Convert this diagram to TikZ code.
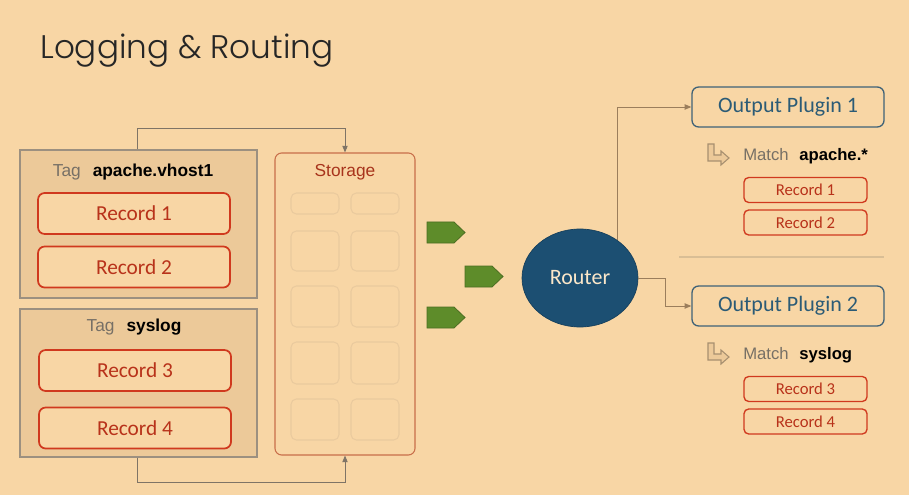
\documentclass[tikz,border=0pt]{standalone}
\usepackage{fontspec}
\setmainfont{Liberation Sans}
\newfontfamily\calib{Carlito}
\newfontfamily\titlef{Poppins Light}
\usetikzlibrary{shapes.geometric,arrows.meta}
\definecolor{bg}{HTML}{F8D6A5}
\definecolor{tagfill}{HTML}{ECC999}
\definecolor{tagdraw}{HTML}{9C9080}
\definecolor{recred}{HTML}{D0391E}
\definecolor{rectext}{HTML}{B8321A}
\definecolor{stortext}{HTML}{A8341C}
\definecolor{stordraw}{HTML}{C86E4A}
\definecolor{cellc}{HTML}{EACA9E}
\definecolor{conn}{HTML}{7F7466}
\definecolor{rconn}{HTML}{9B7E5C}
\definecolor{routerc}{HTML}{1C4F72}
\definecolor{opdraw}{HTML}{3F6277}
\definecolor{optext}{HTML}{2B5B76}
\definecolor{sepc}{HTML}{D9BE95}
\definecolor{greenf}{HTML}{5E8C2A}
\definecolor{greend}{HTML}{4C6E22}
\definecolor{iconc}{HTML}{A89070}
\definecolor{tagword}{HTML}{777066}
\tikzset{
  tagbox/.style={draw=tagdraw, fill=tagfill, line width=0.8pt, minimum width={237*0.75pt}, minimum height={148*0.75pt}, inner sep=0pt},
  bigrec/.style={draw=recred, fill=bg, line width=1.3pt, rounded corners=5pt, minimum width={192*0.75pt}, minimum height={41*0.75pt}, inner sep=0pt, text=rectext, font=\calib\fontsize{16}{18}\selectfont},
  smallrec/.style={draw=recred, fill=bg, line width=1pt, rounded corners=3.5pt, minimum width={123*0.75pt}, minimum height={25*0.75pt}, inner sep=0pt, text=rectext, font=\calib\fontsize{12.5}{14}\selectfont},
  storbox/.style={draw=stordraw, line width=0.8pt, rounded corners=5pt, minimum width={140*0.75pt}, minimum height={302*0.75pt}, inner sep=0pt},
  cell/.style={draw=cellc, line width=0.8pt, rounded corners=4pt, minimum width={48*0.75pt}, inner sep=0pt},
  opbox/.style={draw=opdraw, line width=1pt, rounded corners=5pt, minimum width={192*0.75pt}, minimum height={40*0.75pt}, inner sep=0pt, text=optext, font=\calib\fontsize{16.5}{18}\selectfont},
  connl/.style={draw=conn, line width=0.6pt},
  rconnl/.style={draw=rconn, line width=0.7pt},
  tip/.style={-{Triangle[length=5pt,width=4pt]}},
  greenarr/.style={fill=greenf, draw=greend, line width=0.6pt},
  icon/.style={draw=iconc, fill=tagfill, line width=0.8pt, line join=miter},
  lbl/.style={inner sep=0pt, font=\fontsize{12.5}{14}\selectfont},
  taglbl/.style={inner sep=0pt, font=\fontsize{13}{15}\selectfont},
}
\begin{document}
\begin{tikzpicture}[x=0.75pt,y=-0.75pt]
\fill[bg] (0,0) rectangle (909,495);
\useasboundingbox (0,0) rectangle (909,495);

\node[anchor=base west, inner sep=0pt, font=\titlef\fontsize{24.5}{28}\selectfont, text=black!85] (title) at (40,59) {Logging \& Routing};

% tag boxes
\node[tagbox] (tag1) at (138.5,224) {};
\node[taglbl] (tag1l) at (133,172) {\textcolor{tagword}{Tag}\hspace{9pt}\textbf{apache.vhost1}};
\node[bigrec] (r1) at (134,213.5) {Record 1};
\node[bigrec] (r2) at (134,267) {Record 2};

\node[tagbox] (tag2) at (138.5,383) {};
\node[taglbl] (tag2l) at (134,327) {\textcolor{tagword}{Tag}\hspace{9pt}\textbf{syslog}};
\node[bigrec] (r3) at (135,370.5) {Record 3};
\node[bigrec] (r4) at (135,428) {Record 4};

% storage
\node[storbox] (stor) at (345,304) {};
\node[inner sep=0pt, text=stortext, font=\fontsize{13}{15}\selectfont] (storl) at (345,172) {Storage};
\foreach \y/\h [count=\i] in {203.5/21, 251/40, 306.5/41, 363/42, 419.5/41}{
  \node[cell, minimum height={\h*0.75pt}] (ca\i) at (315,\y) {};
  \node[cell, minimum height={\h*0.75pt}] (cb\i) at (375,\y) {};
}

% connectors to storage
\coordinate (t1) at (137,128);
\coordinate (b1) at (137,482);
\draw[connl, tip] (tag1.north -| t1) -- (t1) -| (stor.north);
\draw[connl, tip] (tag2.south -| b1) -- (b1) -| (stor.south);

% green arrows
\draw[greenarr] (427,222) -- (454,222) -- (465,232.5) -- (454,243) -- (427,243) -- cycle;
\draw[greenarr] (465,266) -- (492,266) -- (503,276.5) -- (492,287) -- (465,287) -- cycle;
\draw[greenarr] (427,307) -- (454,307) -- (465,317.5) -- (454,328) -- (427,328) -- cycle;

% router
\node[ellipse, fill=routerc, draw=routerc!80!black, line width=0.5pt, minimum width={116*0.75pt}, minimum height={98*0.75pt}, inner sep=0pt, text=bg!60!white, font=\calib\fontsize{16.5}{18}\selectfont] (router) at (580,278) {Router};

% outputs
\node[opbox] (op1) at (788,107) {Output Plugin 1};
\node[opbox] (op2) at (788,306) {Output Plugin 2};
\coordinate (k2) at (665,278);
\draw[rconnl, tip] (router.45) |- (op1.west);
\draw[rconnl, tip] (router.east) -- (k2) |- (op2.west);

% separator
\draw[sepc, line width=0.8pt] (679,257) -- (884,257);

% match 1
\draw[icon] (708,144) -- (714,144) -- (714,155) -- (721,155) -- (721,151) -- (729,158) -- (721,165) -- (721,161) -- (708,161) -- cycle;
\node[lbl, anchor=west] (m1) at (743,156) {\textcolor{tagword}{Match}\hspace{8pt}\textbf{apache.*}};
\node[smallrec] (s1) at (805.5,190) {Record 1};
\node[smallrec] (s2) at (805.5,222.5) {Record 2};

% match 2
\draw[icon] (708,343) -- (714,343) -- (714,354) -- (721,354) -- (721,350) -- (729,357) -- (721,364) -- (721,360) -- (708,360) -- cycle;
\node[lbl, anchor=west] (m2) at (743,355) {\textcolor{tagword}{Match}\hspace{8pt}\textbf{syslog}};
\node[smallrec] (s3) at (805.5,389) {Record 3};
\node[smallrec] (s4) at (805.5,421.5) {Record 4};
\end{tikzpicture}
\end{document}
